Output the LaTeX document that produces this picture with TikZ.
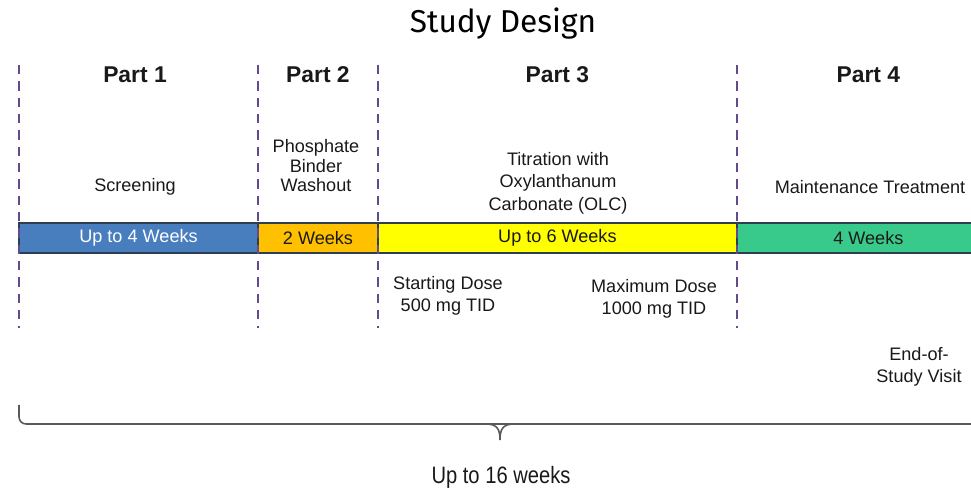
\documentclass[tikz,border=0pt]{standalone}
\usepackage{fontspec}
\setmainfont{Liberation Sans}
\newfontfamily\titlefont{Fira Sans}
\newfontfamily\narrowfont[FakeStretch=0.85]{Liberation Sans}
\usetikzlibrary{positioning}
\usepackage{xcolor}
\definecolor{barblue}{RGB}{72,126,190}
\definecolor{barorange}{RGB}{255,192,0}
\definecolor{baryellow}{RGB}{255,255,0}
\definecolor{bargreen}{RGB}{56,202,138}
\definecolor{barline}{RGB}{45,62,80}
\definecolor{sepviolet}{RGB}{98,74,140}

\begin{document}
\begin{tikzpicture}[
    x=0.02cm, y=-0.02cm,
    part/.style={font=\fontsize{13}{15}\selectfont\bfseries, text=black!90, inner sep=1pt},
    desc/.style={align=center, font=\fontsize{10.3}{12.3}\selectfont, text=black!90, inner sep=1pt},
    seg/.style={rectangle, draw=barline, line width=0.8pt, minimum height=0.6cm, inner sep=0pt, outer sep=0pt, font=\fontsize{10.3}{12}\selectfont, text=black!90},
    sepline/.style={draw=sepviolet, line width=1.3pt, dash pattern=on 5.3pt off 4pt},
    brc/.style={draw=black!65, line width=0.9pt}
]
    \clip (0,0) rectangle (971,492);

    % title
    \node[font=\titlefont\fontsize{18}{20}\selectfont] (title) at (503,24) {Study Design};

    % timeline bar
    \node[seg, fill=barblue, text=white, minimum width=4.78cm] (wk1) at (138.5,238) {Up to 4 Weeks};
    \node[seg, fill=barorange, minimum width=2.4cm, right=0pt of wk1] (wk2) {2 Weeks};
    \node[seg, fill=baryellow, minimum width=7.18cm, right=0pt of wk2] (wk3) {Up to 6 Weeks};
    \node[seg, fill=bargreen, minimum width=5.26cm, right=0pt of wk3] (wk4) {4 Weeks};

    % part separators
    \foreach \sx in {19, 258, 378, 737}
        \draw[sepline] (\sx,65) -- (\sx,328);

    % part headings
    \node[part] (p1) at (135,75) {Part 1};
    \node[part] (p2) at (wk2 |- 0,75) {Part 2};
    \node[part] (p3) at (wk3 |- 0,75) {Part 3};
    \node[part] (p4) at (wk4 |- 0,75) {Part 4};

    % phase descriptions
    \node[desc] (scr) at (135,187) {Screening};
    \node[desc, font=\fontsize{10.3}{11.1}\selectfont] (wash) at (316,166) {Phosphate\\Binder\\Washout};
    \node[desc, font=\fontsize{10.3}{12.8}\selectfont] (titr) at (558,183) {Titration with\\Oxylanthanum\\Carbonate (OLC)};
    \node[desc] (maint) at (870,187) {Maintenance Treatment};

    % doses and visit
    \node[desc] (dstart) at (448,296) {Starting Dose\\500 mg TID};
    \node[desc] (dmax) at (654,299) {Maximum Dose\\1000 mg TID};
    \node[desc] (eos) at (919,367) {End-of-\\Study Visit};

    % overall duration
    \coordinate (bl) at (19,405);
    \coordinate (tip) at (500,440);
    \draw[brc, rounded corners=4pt] (bl) |- (980,424);
    \draw[brc] (486,424) .. controls (497,424) and (500,429) .. (tip)
        .. controls (500,429) and (503,424) .. (514,424);
    \node[font=\narrowfont\fontsize{13.5}{15}\selectfont, text=black!90] (total) at (501,477) {Up to 16 weeks};
\end{tikzpicture}
\end{document}
